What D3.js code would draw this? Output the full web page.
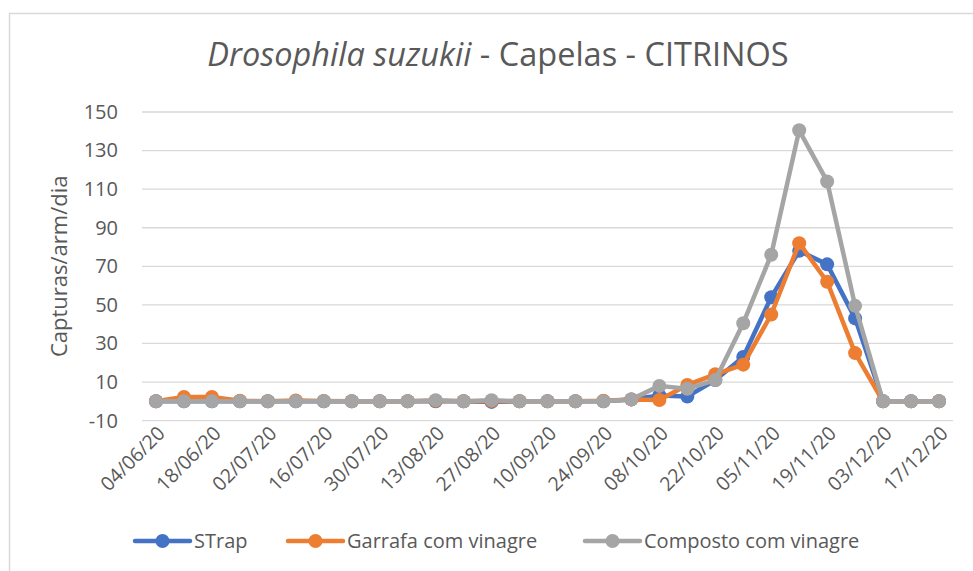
<!DOCTYPE html>
<html>
<head>
<meta charset="utf-8">
<script src="https://cdn.jsdelivr.net/npm/d3@7"></script>
<style>
  body { margin: 0; background: #fff; }
  text { font-family: "Open Sans", "Noto Sans", sans-serif; fill: #595959; }
</style>
</head>
<body>
<svg id="chart" width="973" height="571"></svg>
<script>
// Dates (weekly samples).
const dates = ["04/06/20", "11/06/20", "18/06/20", "25/06/20", "02/07/20", "09/07/20", "16/07/20",
  "23/07/20", "30/07/20", "06/08/20", "13/08/20", "20/08/20", "27/08/20", "03/09/20", "10/09/20",
  "17/09/20", "24/09/20", "01/10/20", "08/10/20", "15/10/20", "22/10/20", "29/10/20", "05/11/20",
  "12/11/20", "19/11/20", "26/11/20", "03/12/20", "10/12/20", "17/12/20"];

const strap = [0, 0, 0, 0, 0, 0, 0, 0, 0, 0, 0, 0, -0.3, 0, 0, 0, 0, 1, 3, 2.5, 11, 23, 54, 78, 71, 43, 0, 0, 0];
const garrafa = [0, 2.2, 2.3, 0.3, 0, 0.4, 0.2, 0, 0, 0, 0.3, 0, 0.2, 0, 0, 0, 0.3, 1, 0.7, 8.5, 14, 19, 45, 82, 62, 25, 0, 0, 0];
const composto = [0, 0, 0, 0, 0, 0, 0, 0, 0, 0, 0.6, 0, 0.6, 0, 0, 0, 0, 1, 8, 6.5, 11, 40.5, 76, 140.5, 114, 49.5, 0, 0, 0];

const seriesNames = ["STrap", "Garrafa com vinagre", "Composto com vinagre"];
const seriesColors = ["#4472C4", "#ED7D31", "#A5A5A5"];
const yTicks = [-10, 10, 30, 50, 70, 90, 110, 130, 150];

const svg = d3.select("#chart");

// Chart area border.
svg.append("rect")
  .attr("x", 9.5).attr("y", 13.5)
  .attr("width", 980).attr("height", 580)
  .attr("fill", "none").attr("stroke", "#d9d9d9").attr("stroke-width", 1.5);

const plotLeft = 142, plotRight = 953, plotTop = 112, plotBottom = 420.6;

const x = d3.scaleBand().domain(dates).range([plotLeft, plotRight]);
const y = d3.scaleLinear().domain([-10, 150]).range([plotBottom, plotTop]);

// Gridlines.
svg.append("g")
  .selectAll("line")
  .data(yTicks)
  .join("line")
  .attr("x1", plotLeft).attr("x2", plotRight)
  .attr("y1", (d) => y(d)).attr("y2", (d) => y(d))
  .attr("stroke", "#d9d9d9").attr("stroke-width", 1.3);

// Y axis labels.
const yAxis = svg.append("g")
  .attr("transform", `translate(${plotLeft - 4},0)`)
  .call(d3.axisLeft(y).tickValues(yTicks).tickFormat((d) => String(d)).tickSize(0).tickPadding(20));
yAxis.select(".domain").remove();
yAxis.selectAll("text")
  .attr("font-size", 20)
  .style("font-family", "'Open Sans', sans-serif")
  .attr("fill", "#595959");

// X axis labels, every other date.
const xAxis = svg.append("g")
  .attr("transform", `translate(0,${plotBottom})`)
  .call(d3.axisBottom(x).tickValues(dates.filter((d, i) => i % 2 === 0)).tickSize(0));
xAxis.select(".domain").remove();
xAxis.selectAll("text")
  .attr("font-size", 19.5)
  .style("font-family", "'Open Sans', sans-serif")
  .attr("fill", "#595959")
  .attr("text-anchor", "end")
  .attr("dx", 0).attr("dy", 0)
  .attr("transform", "translate(8,12) rotate(-45)");

// Y axis title.
svg.append("text")
  .attr("transform", `translate(67,${(plotTop + plotBottom) / 2}) rotate(-90)`)
  .attr("text-anchor", "middle")
  .attr("font-size", 22)
  .text("Capturas/arm/dia");

// Title.
const title = svg.append("text")
  .attr("x", 498).attr("y", 66)
  .attr("text-anchor", "middle")
  .attr("font-size", 32.5);
title.append("tspan").attr("font-style", "italic").text("Drosophila suzukii");
title.append("tspan").text(" - Capelas - CITRINOS");

// Series.
const allSeries = [strap, garrafa, composto];
const line = d3.line()
  .x((d, i) => x(dates[i]) + x.bandwidth() / 2)
  .y((d) => y(d));

allSeries.forEach((vals, s) => {
  const g = svg.append("g");
  g.append("path")
    .datum(vals)
    .attr("d", line)
    .attr("fill", "none")
    .attr("stroke", seriesColors[s])
    .attr("stroke-width", 4.5)
    .attr("stroke-linejoin", "round");
  g.selectAll("circle")
    .data(vals)
    .join("circle")
    .attr("cx", (d, i) => x(dates[i]) + x.bandwidth() / 2)
    .attr("cy", (d) => y(d))
    .attr("r", 7)
    .attr("fill", seriesColors[s]);
});

// Legend.
const legendX = [135, 288, 585];
const legend = svg.append("g");
seriesNames.forEach((name, s) => {
  const g = legend.append("g").attr("transform", `translate(${legendX[s]},541)`);
  g.append("line")
    .attr("x1", 0).attr("x2", 55)
    .attr("stroke", seriesColors[s]).attr("stroke-width", 4.5)
    .attr("stroke-linecap", "round");
  g.append("circle").attr("cx", 27.5).attr("r", 7).attr("fill", seriesColors[s]);
  g.append("text")
    .attr("x", 59).attr("y", 7)
    .attr("font-size", 20)
    .text(name);
});
</script>
</body>
</html>
